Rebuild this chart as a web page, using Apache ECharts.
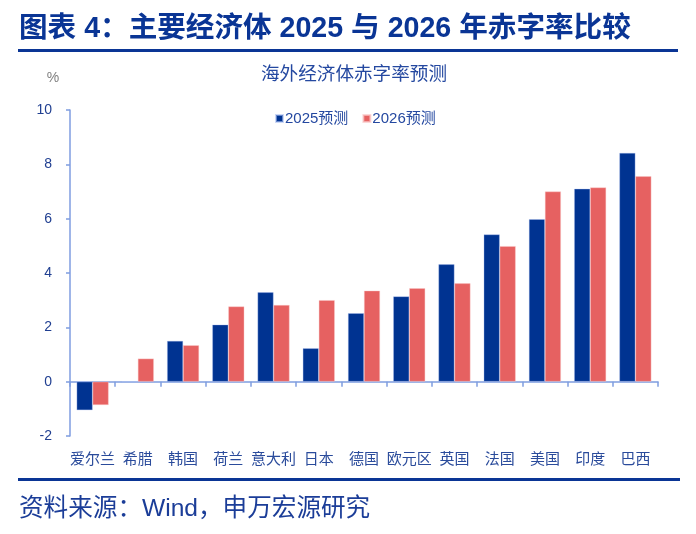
<!DOCTYPE html>
<html>
<head>
<meta charset="utf-8">
<script src="https://cdn.jsdelivr.net/npm/echarts@6/dist/echarts.min.js"></script>
<style>html,body{margin:0;padding:0;background:#fff;}#c{width:696px;height:534px;}</style>
</head>
<body>
<div id="c"></div>
<script>
var categories = ['爱尔兰','希腊','韩国','荷兰','意大利','日本','德国','欧元区','英国','法国','美国','印度','巴西'];
var s2025 = [-1.05, 0, 1.5, 2.1, 3.29, 1.23, 2.52, 3.14, 4.32, 5.42, 5.98, 7.1, 8.42];
var s2026 = [-0.86, 0.85, 1.34, 2.77, 2.82, 3.0, 3.35, 3.44, 3.62, 4.99, 7.0, 7.15, 7.56];
var yTicks = [-2, 0, 2, 4, 6, 8, 10];

var FONT = '"Liberation Sans", "Noto Sans CJK SC", sans-serif';
var chart = echarts.init(document.getElementById('c'));
chart.setOption({
  animation: false,
  backgroundColor: '#fff',
  textStyle: { fontFamily: FONT },
  graphic: [
    { type: 'text', left: 19, top: 15, style: { text: '图表 4：主要经济体 2025 与 2026 年赤字率比较', font: 'bold 28.6px ' + FONT, fill: '#0a3595' } },
    { type: 'rect', shape: { x: 18, y: 49, width: 660, height: 3 }, style: { fill: '#0a3595' } },
    { type: 'rect', shape: { x: 18, y: 478, width: 662, height: 3 }, style: { fill: '#0a3595' } },
    { type: 'text', left: 19, top: 497, style: { text: '资料来源：Wind，申万宏源研究', font: '24.6px ' + FONT, fill: '#1b3d98' } },
    { type: 'text', x: 354, y: 75, style: { text: '海外经济体赤字率预测', font: '18.6px ' + FONT, fill: '#2448a0', align: 'center', verticalAlign: 'middle' } },
    { type: 'text', x: 53, y: 78, style: { text: '%', font: '14px ' + FONT, fill: '#808080', align: 'center', verticalAlign: 'middle' } }
  ],
  legend: {
    left: 270, top: 106,
    itemWidth: 7, itemHeight: 7, itemGap: 14,
    icon: 'rect',
    textStyle: { fontSize: 15, color: '#2448a0', padding: [0, 0, 0, -3] },
    data: ['2025预测', '2026预测']
  },
  grid: { left: 70, right: 38, top: 110, bottom: 98, containLabel: false },
  xAxis: [
    {
      type: 'category', data: categories, boundaryGap: true,
      axisLine: { onZero: true, lineStyle: { color: '#7f9de0', width: 1.5 } },
      axisTick: { show: true, interval: 0, length: 5, lineStyle: { color: '#7f9de0', width: 1.5 } },
      axisLabel: { show: false }
    },
    {
      type: 'category', data: categories, boundaryGap: true, position: 'bottom',
      axisLine: { show: false, onZero: false }, axisTick: { show: false },
      axisLabel: { interval: 0, margin: 16, fontSize: 15, color: '#2a4b9b' }
    }
  ],
  yAxis: {
    type: 'value', min: yTicks[0], max: yTicks[yTicks.length - 1], interval: 2,
    splitLine: { show: false },
    axisLine: { show: true, lineStyle: { color: '#7f9de0', width: 1.5 } },
    axisTick: { show: true, length: 4, lineStyle: { color: '#7f9de0', width: 1.5 } },
    axisLabel: { margin: 18, fontSize: 14, color: '#203f91' }
  },
  series: [
    { name: '2025预测', type: 'bar', data: s2025, barWidth: 16, barGap: '0%', itemStyle: { color: '#003391', borderColor: 'rgba(170,190,240,0.6)', borderWidth: 0.6 } },
    { name: '2026预测', type: 'bar', data: s2026, barWidth: 16, barGap: '0%', itemStyle: { color: '#e66161', borderColor: 'rgba(250,200,200,0.7)', borderWidth: 0.6 } }
  ]
});
</script>
</body>
</html>
